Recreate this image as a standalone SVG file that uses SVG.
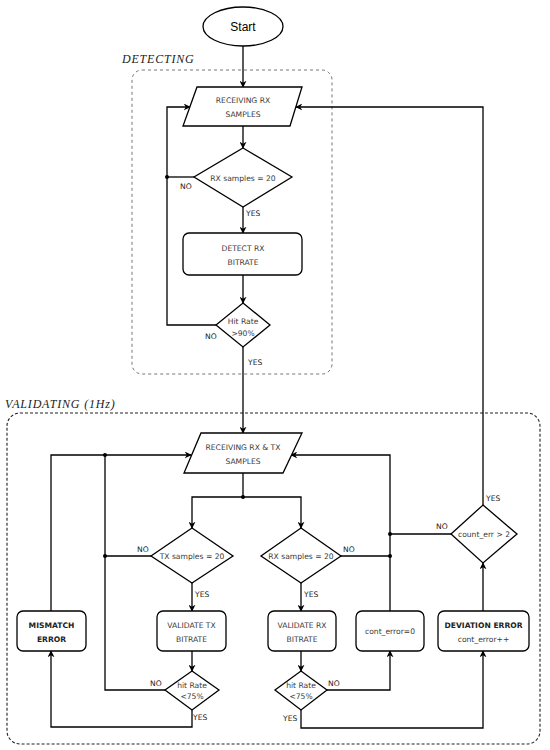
<svg xmlns="http://www.w3.org/2000/svg" width="550" height="750" viewBox="0 0 550 750">
<defs>
<marker id="arr" viewBox="0 0 10 10" refX="9" refY="5" markerWidth="7" markerHeight="7" orient="auto" markerUnits="userSpaceOnUse">
<path d="M0,0 L10,5 L0,10 L3,5 Z" fill="#000"/>
</marker>
</defs>
<style>
.sh{fill:#fff;stroke:#000;stroke-width:1.3}
.t{font-family:"DejaVu Sans",Verdana,sans-serif;font-size:7.6px;fill:#3a3a3a;text-anchor:middle}
.b{font-weight:bold;fill:#222}
.lb{font-family:"DejaVu Sans",Verdana,sans-serif;font-size:7.6px;fill:#222}
.c{fill:none;stroke:#000;stroke-width:1.3}
.ca{fill:none;stroke:#000;stroke-width:1.3;marker-end:url(#arr)}
.dot{fill:#000}
.grp{font-family:"Liberation Serif","DejaVu Serif",serif;font-style:italic;font-size:12px;fill:#222;letter-spacing:0.8px}
</style>
<rect fill="#fff" width="550" height="750"/>

<g id="group-detecting">
<rect x="132" y="70" width="200" height="304" rx="10" fill="none" stroke="#777" stroke-width="1" stroke-dasharray="3,3"/>
<text class="grp" x="122" y="63">DETECTING</text>
</g>
<g id="group-validating">
<rect x="7" y="413" width="533" height="331" rx="13" fill="none" stroke="#222" stroke-width="1.1" stroke-dasharray="3,2"/>
<text class="grp" x="5" y="408">VALIDATING (1Hz)</text>
</g>

<g id="connectors">
<path class="ca" d="M243,46 V87"/>
<path class="ca" d="M243,126 V148"/>
<path class="ca" d="M243,207 V233"/>
<path class="ca" d="M243,275 V303"/>
<path class="ca" d="M216,325 H167 V107 H190"/>
<path class="c" d="M194,177 H167"/>
<circle class="dot" cx="167" cy="177" r="2"/>
<path class="ca" d="M243,347 V433"/>
<path class="ca" d="M483,505 V107 H296"/>
<path class="c" d="M243,473 V497"/>
<circle class="dot" cx="243" cy="497" r="2"/>
<path class="ca" d="M243,497 H192 V528"/>
<path class="ca" d="M243,497 H301 V528"/>
<path class="ca" d="M51,611 V455 H191"/>
<circle class="dot" cx="105" cy="455" r="2"/>
<path class="c" d="M165,690 H105 V455"/>
<path class="c" d="M151,556 H105"/>
<circle class="dot" cx="105" cy="556" r="2"/>
<path class="ca" d="M192,583 V611"/>
<path class="ca" d="M192,651 V671"/>
<path class="ca" d="M192,710 V727 H51 V651"/>
<path class="ca" d="M301,583 V611"/>
<path class="ca" d="M301,651 V671"/>
<path class="ca" d="M301,710 V728 H483 V651"/>
<path class="ca" d="M327,690 H390 V651"/>
<path class="ca" d="M390,611 V455 H291"/>
<path class="c" d="M341,556 H390"/>
<circle class="dot" cx="390" cy="556" r="2"/>
<path class="c" d="M451,534 H390"/>
<circle class="dot" cx="390" cy="534" r="2"/>
<path class="ca" d="M483,611 V563"/>
</g>

<g id="labels">
<text class="lb" x="180" y="189">NO</text>
<text class="lb" x="246" y="216">YES</text>
<text class="lb" x="205" y="339">NO</text>
<text class="lb" x="248" y="365">YES</text>
<text class="lb" x="137" y="552">NO</text>
<text class="lb" x="195" y="597">YES</text>
<text class="lb" x="150" y="686">NO</text>
<text class="lb" x="193" y="720">YES</text>
<text class="lb" x="343" y="552">NO</text>
<text class="lb" x="304" y="597">YES</text>
<text class="lb" x="328" y="686">NO</text>
<text class="lb" x="283" y="721">YES</text>
<text class="lb" x="436" y="529">NO</text>
<text class="lb" x="486" y="501">YES</text>
</g>

<g id="node-start">
<ellipse class="sh" cx="243" cy="26.5" rx="40" ry="19.5"/>
<text x="243" y="31" font-family="Liberation Sans,Arial,sans-serif" font-size="12" text-anchor="middle" fill="#000">Start</text>
</g>
<g id="node-recv-rx">
<polygon class="sh" points="197,87 302,87 290,126 183,126"/>
<text class="t" x="243" y="103">RECEIVING RX</text>
<text class="t" x="243" y="117">SAMPLES</text>
</g>
<g id="node-rx-samples">
<polygon class="sh" points="243,148 292,177 243,207 194,177"/>
<text class="t" x="243" y="181">RX samples = 20</text>
</g>
<g id="node-detect">
<rect class="sh" x="183" y="233" width="119" height="42" rx="6"/>
<text class="t" x="243" y="251">DETECT RX</text>
<text class="t" x="243" y="265">BITRATE</text>
</g>
<g id="node-hit90">
<polygon class="sh" points="243,303 270,325 243,347 216,325"/>
<text class="t" x="243" y="324">Hit Rate</text>
<text class="t" x="243" y="336">&gt;90%</text>
</g>
<g id="node-recv-rxtx">
<polygon class="sh" points="201,433 302,433 283,473 184,473"/>
<text class="t" x="243" y="450">RECEIVING RX &amp; TX</text>
<text class="t" x="243" y="464">SAMPLES</text>
</g>
<g id="node-tx-samples">
<polygon class="sh" points="192,528 233,556 192,583 151,556"/>
<text class="t" x="192" y="559">TX samples = 20</text>
</g>
<g id="node-rx-samples2">
<polygon class="sh" points="301,528 341,556 301,583 261,556"/>
<text class="t" x="301" y="559">RX samples = 20</text>
</g>
<g id="node-mismatch">
<rect class="sh" x="17" y="611" width="69" height="40" rx="6"/>
<text class="t b" x="51.5" y="628">MISMATCH</text>
<text class="t b" x="51.5" y="642">ERROR</text>
</g>
<g id="node-validate-tx">
<rect class="sh" x="157" y="611" width="69" height="40" rx="6"/>
<text class="t" x="191.5" y="628">VALIDATE TX</text>
<text class="t" x="191.5" y="642">BITRATE</text>
</g>
<g id="node-validate-rx">
<rect class="sh" x="268" y="611" width="68" height="40" rx="6"/>
<text class="t" x="302" y="628">VALIDATE RX</text>
<text class="t" x="302" y="642">BITRATE</text>
</g>
<g id="node-cont-zero">
<rect class="sh" x="356" y="611" width="68" height="40" rx="6"/>
<text class="t" x="390" y="634">cont_error=0</text>
</g>
<g id="node-deviation">
<rect class="sh" x="438" y="611" width="91" height="40" rx="6"/>
<text class="t b" x="483.5" y="628">DEVIATION ERROR</text>
<text class="t" x="483.5" y="642">cont_error++</text>
</g>
<g id="node-hit-tx">
<polygon class="sh" points="192,671 219,690 192,710 165,690"/>
<text class="t" x="192" y="688">hit Rate</text>
<text class="t" x="192" y="699">&lt;75%</text>
</g>
<g id="node-hit-rx">
<polygon class="sh" points="301,671 327,690 301,710 275,690"/>
<text class="t" x="301" y="688">hit Rate</text>
<text class="t" x="301" y="699">&lt;75%</text>
</g>
<g id="node-count-err">
<polygon class="sh" points="483,505 517,534 483,563 451,534"/>
<text class="t" x="484" y="537">count_err &gt; 2</text>
</g>
</svg>
